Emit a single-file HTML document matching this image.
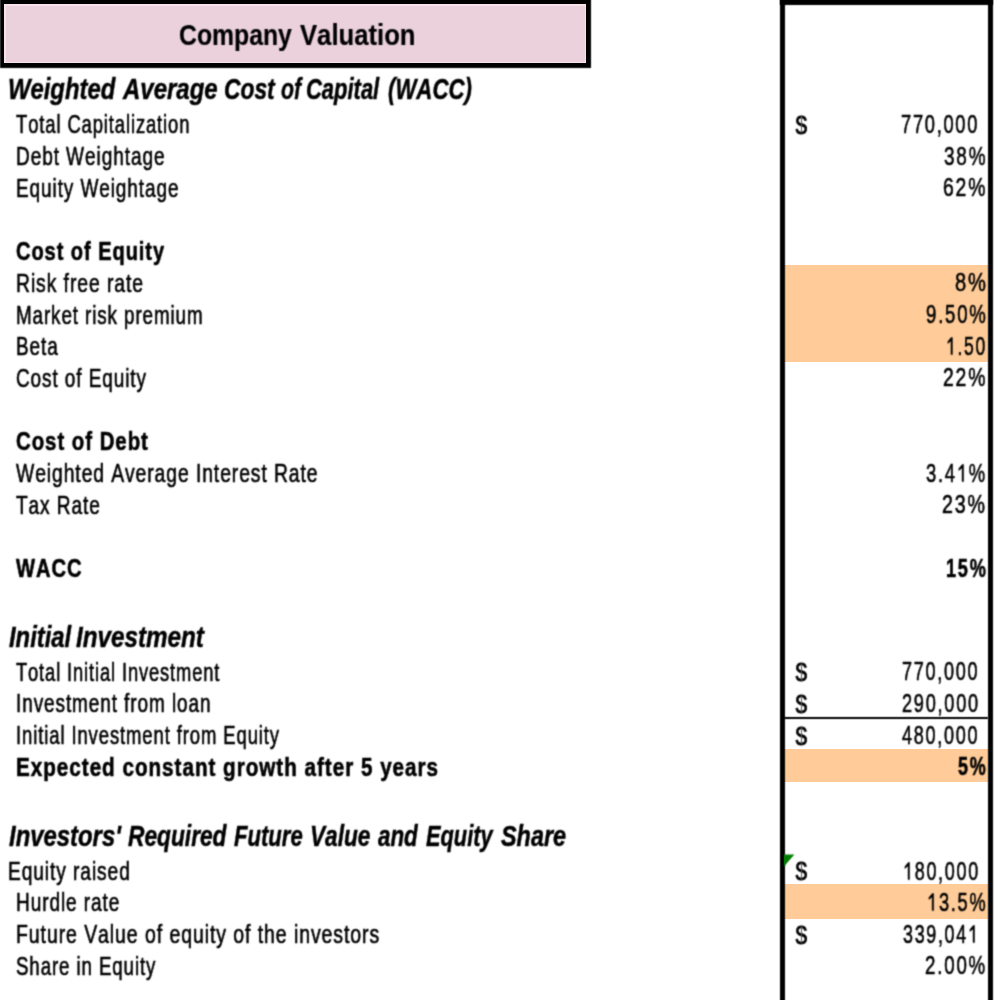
<!DOCTYPE html>
<html><head><meta charset="utf-8"><style>
html,body{margin:0;padding:0;background:#fff;}
body{width:1000px;height:1000px;position:relative;overflow:hidden;font-family:"Liberation Sans", sans-serif;color:#000;}
.t{position:absolute;white-space:nowrap;transform-origin:0 0;font-kerning:none;-webkit-text-stroke:0.6px #000;filter:url(#soft);}
.bx{position:absolute;filter:url(#soft);}
.nf{filter:none;}
.one{position:relative;color:transparent;-webkit-text-stroke-color:transparent;}
</style></head><body>
<svg width="0" height="0" style="position:absolute"><filter id="soft" x="-5%" y="-5%" width="110%" height="110%"><feConvolveMatrix order="3" kernelMatrix="0.04 0.12 0.04 0.12 0.36 0.12 0.04 0.12 0.04" divisor="1" edgeMode="none"/></filter></svg>
<div class="bx" style="left:0;top:-10px;width:591px;height:78px;background:#000"></div>
<div class="bx nf" style="left:4px;top:4px;width:582px;height:59px;background:#F7E1EB"></div>
<div class="bx nf" style="left:5.5px;top:5.5px;width:579px;height:56px;background:#EAD1DC"></div>
<div class="bx nf" style="left:784px;top:264.5px;width:204px;height:97.3px;background:#FFCC99"></div>
<div class="bx nf" style="left:784px;top:748.7px;width:204px;height:33.6px;background:#FFCC99"></div>
<div class="bx nf" style="left:784px;top:884.3px;width:204px;height:34.3px;background:#FFCC99"></div>
<div class="bx" style="left:784px;top:717px;width:204px;height:2px;background:#000"></div>
<div class="bx" style="left:780px;top:-10px;width:5px;height:1020px;background:#000"></div>
<div class="bx" style="left:988px;top:-10px;width:5px;height:1020px;background:#000"></div>
<div class="bx" style="left:780px;top:-10px;width:213px;height:15px;background:#000"></div>
<svg class="bx" style="left:0;top:0" width="1000" height="1000"><polygon points="784,854.6 794.4,854.6 784,866.6" fill="#008000"/></svg>
<div class="t" style="left:179.07px;top:19.50px;font-size:30.0px;line-height:30.0px;transform:scaleX(0.8257);font-weight:bold;-webkit-text-stroke:0.2px #000">Company</div>
<div class="t" style="left:300.00px;top:19.50px;font-size:30.0px;line-height:30.0px;transform:scaleX(0.8557);font-weight:bold;-webkit-text-stroke:0.2px #000">Valuation</div>
<div class="t" style="left:8.40px;top:74.37px;font-size:29.8px;line-height:29.8px;transform:scaleX(0.7997);font-weight:bold;font-style:italic;-webkit-text-stroke:0.5px #000">Weighted</div>
<div class="t" style="left:123.30px;top:74.37px;font-size:29.8px;line-height:29.8px;transform:scaleX(0.8049);font-weight:bold;font-style:italic;-webkit-text-stroke:0.5px #000">Average</div>
<div class="t" style="left:224.44px;top:74.37px;font-size:29.8px;line-height:29.8px;transform:scaleX(0.7648);font-weight:bold;font-style:italic;-webkit-text-stroke:0.5px #000">Cost</div>
<div class="t" style="left:281.00px;top:74.37px;font-size:29.8px;line-height:29.8px;transform:scaleX(0.7115);font-weight:bold;font-style:italic;-webkit-text-stroke:0.5px #000">of</div>
<div class="t" style="left:306.26px;top:74.37px;font-size:29.8px;line-height:29.8px;transform:scaleX(0.7369);font-weight:bold;font-style:italic;-webkit-text-stroke:0.5px #000">Capital</div>
<div class="t" style="left:388.25px;top:74.37px;font-size:29.8px;line-height:29.8px;transform:scaleX(0.7455);font-weight:bold;font-style:italic;-webkit-text-stroke:0.5px #000">(WACC)</div>
<div class="t" style="left:16.20px;top:112.24px;font-size:25.0px;line-height:25.0px;transform:scaleX(0.7369);letter-spacing:1.2px">Total Capitalization</div>
<div class="t" style="left:16.20px;top:144.24px;font-size:25.0px;line-height:25.0px;transform:scaleX(0.7620);letter-spacing:1.2px">Debt Weightage</div>
<div class="t" style="left:16.20px;top:175.74px;font-size:25.0px;line-height:25.0px;transform:scaleX(0.7595);letter-spacing:1.2px">Equity Weightage</div>
<div class="t" style="left:16.20px;top:239.24px;font-size:25.0px;line-height:25.0px;transform:scaleX(0.8005);font-weight:bold;letter-spacing:1.2px">Cost of Equity</div>
<div class="t" style="left:16.20px;top:270.84px;font-size:25.0px;line-height:25.0px;transform:scaleX(0.7732);letter-spacing:1.2px">Risk free rate</div>
<div class="t" style="left:16.20px;top:302.64px;font-size:25.0px;line-height:25.0px;transform:scaleX(0.7525);letter-spacing:1.2px">Market risk premium</div>
<div class="t" style="left:16.20px;top:334.44px;font-size:25.0px;line-height:25.0px;transform:scaleX(0.7583);letter-spacing:1.2px">Beta</div>
<div class="t" style="left:16.20px;top:365.74px;font-size:25.0px;line-height:25.0px;transform:scaleX(0.7588);letter-spacing:1.2px">Cost of Equity</div>
<div class="t" style="left:16.20px;top:429.04px;font-size:25.0px;line-height:25.0px;transform:scaleX(0.8149);font-weight:bold;letter-spacing:1.2px">Cost of Debt</div>
<div class="t" style="left:16.20px;top:461.24px;font-size:25.0px;line-height:25.0px;transform:scaleX(0.7720);letter-spacing:1.2px">Weighted Average Interest Rate</div>
<div class="t" style="left:16.20px;top:492.74px;font-size:25.0px;line-height:25.0px;transform:scaleX(0.7629);letter-spacing:1.2px">Tax Rate</div>
<div class="t" style="left:16.20px;top:556.24px;font-size:25.0px;line-height:25.0px;transform:scaleX(0.8044);font-weight:bold;letter-spacing:1.2px">WACC</div>
<div class="t" style="left:8.80px;top:621.77px;font-size:29.8px;line-height:29.8px;transform:scaleX(0.7984);font-weight:bold;font-style:italic;-webkit-text-stroke:0.5px #000">Initial</div>
<div class="t" style="left:75.90px;top:621.77px;font-size:29.8px;line-height:29.8px;transform:scaleX(0.8126);font-weight:bold;font-style:italic;-webkit-text-stroke:0.5px #000">Investment</div>
<div class="t" style="left:16.20px;top:659.84px;font-size:25.0px;line-height:25.0px;transform:scaleX(0.7323);letter-spacing:1.2px">Total Initial Investment</div>
<div class="t" style="left:16.20px;top:691.44px;font-size:25.0px;line-height:25.0px;transform:scaleX(0.7590);letter-spacing:1.2px">Investment from loan</div>
<div class="t" style="left:16.20px;top:722.94px;font-size:25.0px;line-height:25.0px;transform:scaleX(0.7396);letter-spacing:1.2px">Initial Investment from Equity</div>
<div class="t" style="left:16.20px;top:754.54px;font-size:25.0px;line-height:25.0px;transform:scaleX(0.8256);font-weight:bold;letter-spacing:1.2px">Expected constant growth after 5 years</div>
<div class="t" style="left:9.00px;top:820.77px;font-size:29.8px;line-height:29.8px;transform:scaleX(0.8015);font-weight:bold;font-style:italic;-webkit-text-stroke:0.5px #000">Investors'</div>
<div class="t" style="left:127.60px;top:820.77px;font-size:29.8px;line-height:29.8px;transform:scaleX(0.7627);font-weight:bold;font-style:italic;-webkit-text-stroke:0.5px #000">Required</div>
<div class="t" style="left:234.20px;top:820.77px;font-size:29.8px;line-height:29.8px;transform:scaleX(0.7414);font-weight:bold;font-style:italic;-webkit-text-stroke:0.5px #000">Future</div>
<div class="t" style="left:309.98px;top:820.77px;font-size:29.8px;line-height:29.8px;transform:scaleX(0.7605);font-weight:bold;font-style:italic;-webkit-text-stroke:0.5px #000">Value</div>
<div class="t" style="left:377.60px;top:820.77px;font-size:29.8px;line-height:29.8px;transform:scaleX(0.7513);font-weight:bold;font-style:italic;-webkit-text-stroke:0.5px #000">and</div>
<div class="t" style="left:425.60px;top:820.77px;font-size:29.8px;line-height:29.8px;transform:scaleX(0.7310);font-weight:bold;font-style:italic;-webkit-text-stroke:0.5px #000">Equity</div>
<div class="t" style="left:500.70px;top:820.77px;font-size:29.8px;line-height:29.8px;transform:scaleX(0.7855);font-weight:bold;font-style:italic;-webkit-text-stroke:0.5px #000">Share</div>
<div class="t" style="left:7.60px;top:859.04px;font-size:25.0px;line-height:25.0px;transform:scaleX(0.7667);letter-spacing:1.2px">Equity raised</div>
<div class="t" style="left:16.20px;top:890.44px;font-size:25.0px;line-height:25.0px;transform:scaleX(0.7610);letter-spacing:1.2px">Hurdle rate</div>
<div class="t" style="left:16.20px;top:922.34px;font-size:25.0px;line-height:25.0px;transform:scaleX(0.7783);letter-spacing:1.2px">Future Value of equity of the investors</div>
<div class="t" style="left:16.20px;top:953.64px;font-size:25.0px;line-height:25.0px;transform:scaleX(0.7482);letter-spacing:1.2px">Share in Equity</div>
<div class="t" style="left:901.47px;top:111.84px;font-size:25.0px;line-height:25.0px;transform:scaleX(0.7291);letter-spacing:2.4px">770,000</div>
<div class="t" style="left:943.60px;top:143.64px;font-size:25.0px;line-height:25.0px;transform:scaleX(0.7581);letter-spacing:2.4px">38%</div>
<div class="t" style="left:942.83px;top:174.84px;font-size:25.0px;line-height:25.0px;transform:scaleX(0.7723);letter-spacing:2.4px">62%</div>
<div class="t" style="left:954.70px;top:270.44px;font-size:25.0px;line-height:25.0px;transform:scaleX(0.8042);letter-spacing:2.4px">8%</div>
<div class="t" style="left:925.56px;top:302.24px;font-size:25.0px;line-height:25.0px;transform:scaleX(0.7444);letter-spacing:2.4px">9.50%</div>
<div class="t" style="left:946.40px;top:334.04px;font-size:25.0px;line-height:25.0px;transform:scaleX(0.7025);letter-spacing:2.4px"><span class="one">1<svg viewBox="0 0 1139 2288" style="position:absolute;left:0;top:0;width:0.5562em;height:1.1172em;overflow:visible"><path d="M575,1854 L575,734 L215,949 L215,779 L590,445 L752,445 L752,1854 Z" fill="#000" stroke="#000" stroke-width="40" stroke-linejoin="miter"/></svg></span>.50</div>
<div class="t" style="left:943.03px;top:365.34px;font-size:25.0px;line-height:25.0px;transform:scaleX(0.7741);letter-spacing:2.4px">22%</div>
<div class="t" style="left:926.30px;top:460.84px;font-size:25.0px;line-height:25.0px;transform:scaleX(0.7351);letter-spacing:2.4px">3.4<span class="one">1<svg viewBox="0 0 1139 2288" style="position:absolute;left:0;top:0;width:0.5562em;height:1.1172em;overflow:visible"><path d="M575,1854 L575,734 L215,949 L215,779 L590,445 L752,445 L752,1854 Z" fill="#000" stroke="#000" stroke-width="40" stroke-linejoin="miter"/></svg></span>%</div>
<div class="t" style="left:942.41px;top:492.24px;font-size:25.0px;line-height:25.0px;transform:scaleX(0.7853);letter-spacing:2.4px">23%</div>
<div class="t" style="left:945.67px;top:555.84px;font-size:25.0px;line-height:25.0px;transform:scaleX(0.7256);font-weight:bold;letter-spacing:2.4px">15%</div>
<div class="t" style="left:902.38px;top:659.34px;font-size:25.0px;line-height:25.0px;transform:scaleX(0.7213);letter-spacing:2.4px">770,000</div>
<div class="t" style="left:901.87px;top:691.14px;font-size:25.0px;line-height:25.0px;transform:scaleX(0.7262);letter-spacing:2.4px">290,000</div>
<div class="t" style="left:902.40px;top:722.64px;font-size:25.0px;line-height:25.0px;transform:scaleX(0.7211);letter-spacing:2.4px">480,000</div>
<div class="t" style="left:957.50px;top:754.14px;font-size:25.0px;line-height:25.0px;transform:scaleX(0.7179);font-weight:bold;letter-spacing:2.4px">5%</div>
<div class="t" style="left:902.78px;top:858.54px;font-size:25.0px;line-height:25.0px;transform:scaleX(0.7174);letter-spacing:2.4px"><span class="one">1<svg viewBox="0 0 1139 2288" style="position:absolute;left:0;top:0;width:0.5562em;height:1.1172em;overflow:visible"><path d="M575,1854 L575,734 L215,949 L215,779 L590,445 L752,445 L752,1854 Z" fill="#000" stroke="#000" stroke-width="40" stroke-linejoin="miter"/></svg></span>80,000</div>
<div class="t" style="left:926.77px;top:890.04px;font-size:25.0px;line-height:25.0px;transform:scaleX(0.7280);letter-spacing:2.4px"><span class="one">1<svg viewBox="0 0 1139 2288" style="position:absolute;left:0;top:0;width:0.5562em;height:1.1172em;overflow:visible"><path d="M575,1854 L575,734 L215,949 L215,779 L590,445 L752,445 L752,1854 Z" fill="#000" stroke="#000" stroke-width="40" stroke-linejoin="miter"/></svg></span>3.5%</div>
<div class="t" style="left:903.10px;top:921.94px;font-size:25.0px;line-height:25.0px;transform:scaleX(0.7144);letter-spacing:2.4px">339,04<span class="one">1<svg viewBox="0 0 1139 2288" style="position:absolute;left:0;top:0;width:0.5562em;height:1.1172em;overflow:visible"><path d="M575,1854 L575,734 L215,949 L215,779 L590,445 L752,445 L752,1854 Z" fill="#000" stroke="#000" stroke-width="40" stroke-linejoin="miter"/></svg></span></div>
<div class="t" style="left:925.25px;top:953.44px;font-size:25.0px;line-height:25.0px;transform:scaleX(0.7482);letter-spacing:2.4px">2.00%</div>
<div class="t" style="left:795.45px;top:112.74px;font-size:25.0px;line-height:25.0px;transform:scaleX(0.7533);letter-spacing:1.2px;-webkit-text-stroke:1px #000">S</div>
<div class="bx" style="left:801.05px;top:116.20px;width:1.0px;height:17.20px;background:#555"></div>
<div class="t" style="left:795.45px;top:660.24px;font-size:25.0px;line-height:25.0px;transform:scaleX(0.7533);letter-spacing:1.2px;-webkit-text-stroke:1px #000">S</div>
<div class="bx" style="left:801.05px;top:663.70px;width:1.0px;height:17.20px;background:#555"></div>
<div class="t" style="left:795.45px;top:692.04px;font-size:25.0px;line-height:25.0px;transform:scaleX(0.7533);letter-spacing:1.2px;-webkit-text-stroke:1px #000">S</div>
<div class="bx" style="left:801.05px;top:695.50px;width:1.0px;height:17.20px;background:#555"></div>
<div class="t" style="left:795.45px;top:723.54px;font-size:25.0px;line-height:25.0px;transform:scaleX(0.7533);letter-spacing:1.2px;-webkit-text-stroke:1px #000">S</div>
<div class="bx" style="left:801.05px;top:727.00px;width:1.0px;height:17.20px;background:#555"></div>
<div class="t" style="left:795.45px;top:859.44px;font-size:25.0px;line-height:25.0px;transform:scaleX(0.7533);letter-spacing:1.2px;-webkit-text-stroke:1px #000">S</div>
<div class="bx" style="left:801.05px;top:862.90px;width:1.0px;height:17.20px;background:#555"></div>
<div class="t" style="left:795.45px;top:922.84px;font-size:25.0px;line-height:25.0px;transform:scaleX(0.7533);letter-spacing:1.2px;-webkit-text-stroke:1px #000">S</div>
<div class="bx" style="left:801.05px;top:926.30px;width:1.0px;height:17.20px;background:#555"></div>
</body></html>
